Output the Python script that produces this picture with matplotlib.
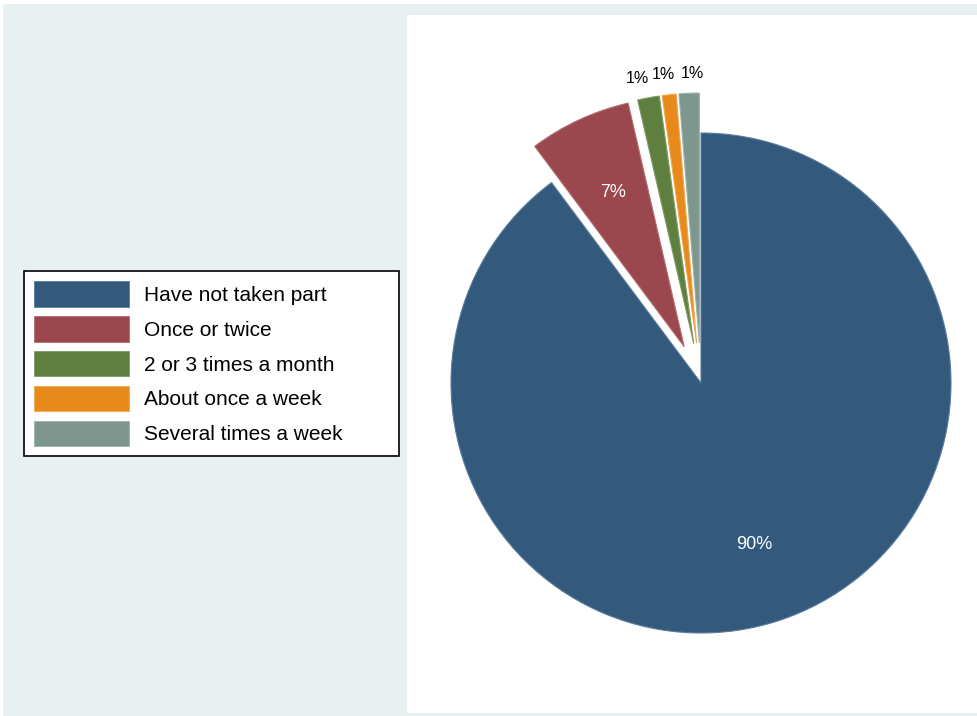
import numpy as np
import matplotlib
matplotlib.use("Agg")
import matplotlib.pyplot as plt
from matplotlib.patches import Rectangle
from matplotlib.transforms import offset_copy

plt.rcParams['font.family'] = ['Liberation Sans', 'DejaVu Sans']

categories = ["Have not taken part", "Once or twice", "2 or 3 times a month",
              "About once a week", "Several times a week"]
values = [89.8, 6.6, 1.4, 0.9, 1.3]
colors = ["#33597D", "#9A474E", "#5F7F3E", "#E8891C", "#7D968E"]
edge_colors = ["#5A7C9A", "#B26C72", "#819B66", "#F0A752", "#9DB0AA"]
explode = [0, 0.16, 0.16, 0.16, 0.16]
# small horizontal nudges (pixels) for the outside labels of thin slices
label_nudge = [0, 0, -7, -4, 4]

W, H = 978, 716
fig = plt.figure(figsize=(W / 100, H / 100), dpi=100)
fig.patch.set_facecolor("white")

def px_rect(x0, y0, x1, y1, color, z):
    fig.patches.append(Rectangle((x0 / W, 1 - y1 / H), (x1 - x0) / W, (y1 - y0) / H,
                                 transform=fig.transFigure, facecolor=color,
                                 edgecolor="none", zorder=z))

px_rect(3, 4, 978, 716, "#E9F0F2", -3)
px_rect(407, 15, 978, 713, "white", -2)

cx, cy, R = 701, 383, 250
half = 300
ax = fig.add_axes([(cx - half) / W, 1 - (cy + half) / H, 2 * half / W, 2 * half / H])
ax.set_zorder(1)

wedges, texts, autotexts = ax.pie(values, colors=colors, explode=explode, startangle=90,
                                  counterclock=False, radius=1.0,
                                  autopct=lambda p: f"{p:.0f}%", pctdistance=0.68,
                                  textprops=dict(color="white", fontsize=13),
                                  wedgeprops=dict(linewidth=0.8))
ax.set_xlim(-1.2, 1.2)
ax.set_ylim(-1.2, 1.2)
ax.set_aspect("equal")
ax.axis("off")
ax.patch.set_alpha(0)

for w, ec in zip(wedges, edge_colors):
    w.set_edgecolor(ec)

for i, (w, t) in enumerate(zip(wedges, autotexts)):
    if values[i] < 3:
        ang = np.deg2rad((w.theta1 + w.theta2) / 2)
        d = 1.08 + explode[i]
        t.set_position((d * np.cos(ang), d * np.sin(ang)))
        t.set_transform(offset_copy(ax.transData, fig=fig, x=label_nudge[i], y=0, units='dots'))
        t.set_color("black")
        t.set_fontsize(11.5)
        t.set_va("center")
        t.set_ha("center")

bx0, by0, bx1, by1 = 24, 271, 399, 456
leg = fig.legend(wedges, categories, loc="upper left", mode="expand",
                 bbox_to_anchor=(bx0 / W, 1 - by1 / H, (bx1 - bx0) / W, (by1 - by0) / H),
                 fontsize=15,
                 frameon=True, fancybox=False, framealpha=1,
                 edgecolor="black", handlelength=94 / 20.8, handleheight=1.5,
                 handletextpad=0.72, labelspacing=0.45, borderpad=0.5,
                 borderaxespad=0)
leg.set_zorder(2)
leg.get_frame().set_linewidth(1.2)
for h in leg.legend_handles:
    h.set_linewidth(0.6)

fig.savefig("out.png", dpi=100, facecolor=fig.get_facecolor())
